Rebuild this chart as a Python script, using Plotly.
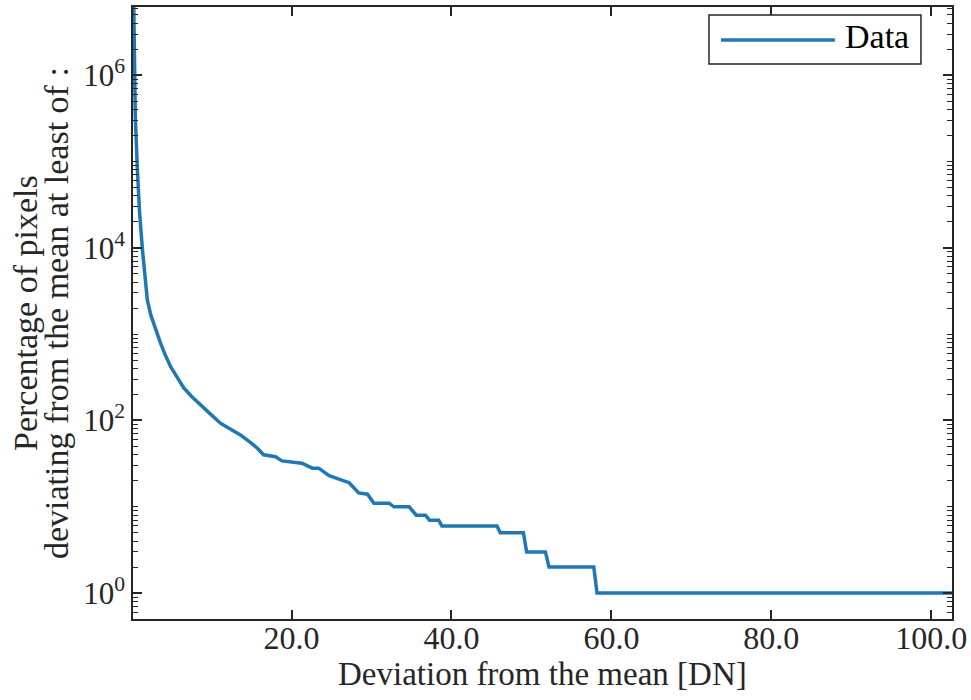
import plotly.graph_objects as go

# Data
deviation = [0.25, 0.4, 0.46, 0.7, 1.0, 1.33, 1.6, 1.96, 2.4, 3.0, 3.6, 4.2, 4.9, 5.7,
             6.5, 7.5, 8.6, 9.8, 11.1, 12.3, 13.6, 14.8, 15.7, 16.5, 18.0, 18.8, 19.9,
             21.3, 22.6, 23.4, 24.7, 25.9, 27.2, 28.4, 29.5, 30.3, 32.2, 32.8, 34.7,
             35.6, 36.75, 37.25, 38.4, 38.8, 45.7, 46.1, 49.0, 49.4, 51.75, 52.2, 57.8,
             58.2, 102.6]
percentage = [8e6, 1e6, 3.3e5, 8.7e4, 2.5e4, 1e4, 5.6e3, 2.5e3, 1.66e3, 1.12e3, 794, 575,
              417, 316, 240, 190, 151, 120, 93, 79, 68, 56, 48, 40, 38, 34, 33, 32, 28, 28,
              23, 21, 19, 14.5, 14, 11, 11, 10, 10, 8, 8, 7, 7, 6, 6, 5, 5, 3, 3, 2, 2, 1, 1]

x_tickvals = [20, 40, 60, 80, 100]
x_ticktext = ["20.0", "40.0", "60.0", "80.0", "100.0"]
y_tickvals = [1, 1e2, 1e4, 1e6]
y_ticktext = ["10<sup>0</sup>", "10<sup>2</sup>", "10<sup>4</sup>", "10<sup>6</sup>"]
x_title = "Deviation from the mean [DN]"
y_title_lines = ["Percentage of pixels", "deviating from the mean at least of :"]
legend_label = "Data"

minor_vals = []
for k in range(-1, 7):
    for m in range(1, 10):
        v = m * 10 ** k
        if v not in y_tickvals:
            minor_vals.append(v)

FONT = "Liberation Serif"
AX = "#262626"
LINE = "#1f77b4"

fig = go.Figure()
fig.add_trace(go.Scatter(x=deviation, y=percentage, mode="lines", name=legend_label,
                         line=dict(color=LINE, width=3.5), showlegend=False))

fig.update_layout(
    width=971, height=700,
    margin=dict(l=133, r=19, t=7, b=80.5),
    paper_bgcolor="white", plot_bgcolor="white",
    font=dict(family=FONT, color=AX, size=32),
    showlegend=False,
)
fig.update_xaxes(
    range=[0.17, 102.6], showgrid=False, zeroline=False, automargin=False,
    showline=True, linecolor=AX, linewidth=1.5, mirror="ticks",
    ticks="inside", ticklen=9, tickwidth=1.5, tickcolor=AX,
    tickvals=x_tickvals, ticktext=x_ticktext, ticklabelstandoff=-10,
    tickfont=dict(family=FONT, size=32, color=AX),
)
fig.update_yaxes(
    type="log", range=[-0.30, 6.79], showgrid=False, zeroline=False, automargin=False,
    showline=True, linecolor=AX, linewidth=1.5, mirror="ticks",
    ticks="inside", ticklen=9, tickwidth=1.5, tickcolor=AX,
    tickvals=y_tickvals, ticktext=y_ticktext,
    tickfont=dict(family=FONT, size=31, color=AX),
    minor=dict(ticks="inside", ticklen=5, tickwidth=1.2, tickcolor=AX, tickvals=minor_vals),
)

# X axis title
fig.add_annotation(text=x_title, xref="paper", yref="paper", x=0.5, y=-0.0906,
                   showarrow=False, xanchor="center", yanchor="middle",
                   font=dict(family=FONT, size=33, color=AX))

# Y axis title (two lines)
for xp, line_text in zip([-0.1319, -0.094], y_title_lines):
    fig.add_annotation(text=line_text, xref="paper", yref="paper", x=xp, y=0.5, textangle=-90,
                       showarrow=False, xanchor="center", yanchor="middle",
                       font=dict(family=FONT, size=34, color=AX))

# Legend box drawn manually
fig.add_shape(type="rect", xref="paper", yref="paper", x0=0.7033, x1=0.9621, y0=0.9069, y1=0.9869,
              line=dict(color=AX, width=1.5), fillcolor="white", layer="above")
fig.add_shape(type="line", xref="paper", yref="paper", x0=0.718, x1=0.857, y0=0.9461, y1=0.9461,
              line=dict(color=LINE, width=3.5), layer="above")
fig.add_annotation(text=legend_label, xref="paper", yref="paper", x=0.867, y=0.951,
                   xanchor="left", yanchor="middle", showarrow=False,
                   font=dict(family=FONT, size=34, color="black"))

fig.write_html("out.html", config={"displayModeBar": False})

# remove the browser's default page margin so the figure sits at the top-left corner
with open("out.html", "r", encoding="utf-8") as f:
    html = f.read()
html = html.replace("<head>", "<head><style>html,body{margin:0;padding:0;overflow:hidden}</style>", 1)
with open("out.html", "w", encoding="utf-8") as f:
    f.write(html)
